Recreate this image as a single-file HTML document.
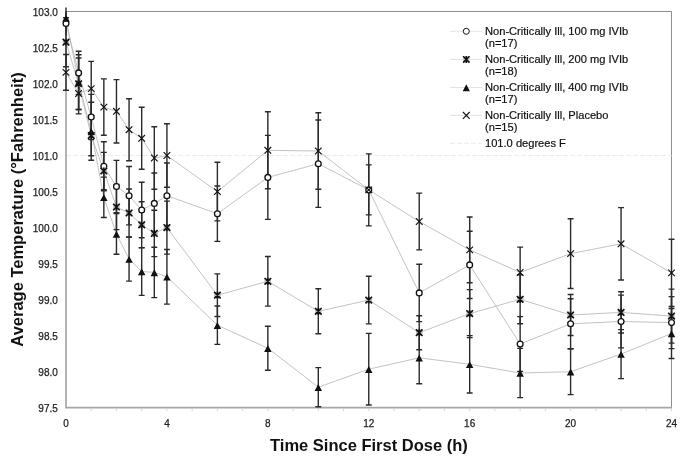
<!DOCTYPE html>
<html><head><meta charset="utf-8"><title>Average Temperature vs Time Since First Dose</title><style>
html,body{margin:0;padding:0;background:#fff;}
body{width:685px;height:460px;overflow:hidden;}
svg{display:block;}
.mc circle{fill:#fff;stroke:#111;stroke-width:1.3;}
.mx{fill:none;stroke:#111;stroke-width:1.2;}
.ma{fill:none;stroke:#111;stroke-width:1.6;}
.mt{fill:#111;stroke:none;}
</style></head><body>
<svg width="685" height="460" viewBox="0 0 685 460">
<path d="M66 11.5H671.5V407" fill="none" stroke="#8e8e8e" stroke-width="1"/>
<path d="M66 155.57H671.5" stroke="#ebebeb" stroke-width="1" stroke-dasharray="5 2"/>
<path d="M66 11V407.7H672" fill="none" stroke="#a6a6a6" stroke-width="1.7"/>
<path d="M91.23 408.5V411M116.46 408.5V411M141.69 408.5V411M166.92 408.5V411M192.15 408.5V411M217.38 408.5V411M242.61 408.5V411M267.84 408.5V411M293.07 408.5V411M318.3 408.5V411M343.53 408.5V411M368.76 408.5V411M393.99 408.5V411M419.22 408.5V411M444.45 408.5V411M469.68 408.5V411M494.91 408.5V411M520.14 408.5V411M545.37 408.5V411M570.6 408.5V411M595.83 408.5V411M621.06 408.5V411M646.29 408.5V411M671.52 408.5V411" stroke="#d4d4d4" stroke-width="1"/>
<g font-family="Liberation Sans, Arial, sans-serif" font-size="10" fill="#222" stroke="#222" stroke-width="0.25" text-anchor="end"><text x="57.8" y="411.7">97.5</text><text x="57.8" y="375.68">98.0</text><text x="57.8" y="339.66">98.5</text><text x="57.8" y="303.65">99.0</text><text x="57.8" y="267.63">99.5</text><text x="57.8" y="231.61">100.0</text><text x="57.8" y="195.59">100.5</text><text x="57.8" y="159.57">101.0</text><text x="57.8" y="123.55">101.5</text><text x="57.8" y="87.54">102.0</text><text x="57.8" y="51.52">102.5</text><text x="57.8" y="15.5">103.0</text></g>
<g font-family="Liberation Sans, Arial, sans-serif" font-size="10" fill="#222" stroke="#222" stroke-width="0.25" text-anchor="middle"><text x="66" y="426.6">0</text><text x="166.92" y="426.6">4</text><text x="267.84" y="426.6">8</text><text x="368.76" y="426.6">12</text><text x="469.68" y="426.6">16</text><text x="570.6" y="426.6">20</text><text x="671.52" y="426.6">24</text></g>
<text x="368.9" y="450.6" font-family="Liberation Sans, Arial, sans-serif" font-weight="bold" font-size="16.5" fill="#111" text-anchor="middle">Time Since First Dose (h)</text>
<text transform="translate(22.5 209.5) rotate(-90)" font-family="Liberation Sans, Arial, sans-serif" font-weight="bold" font-size="16.5" fill="#111" text-anchor="middle">Average Temperature (°Fahrenheit)</text>
<g fill="none" stroke="#b4b4b4" stroke-width="0.8">
<polyline points="66,23.5 78.61,72.9 91.23,117 103.84,166.2 116.46,186.5 129.07,195.7 141.69,210 154.31,203.4 166.92,195.7 217.38,213.7 267.84,177.4 318.3,163.7 368.76,189.9 419.22,292.9 469.68,264.9 520.14,344 570.6,323.8 621.06,321.5 671.52,322.6"/>
<polyline points="66,42.2 78.61,83.75 91.23,135.6 103.84,171 116.46,207 129.07,213 141.69,224.8 154.31,233.4 166.92,227.6 217.38,295.2 267.84,281.3 318.3,311.3 368.76,300.1 419.22,332.7 469.68,313.6 520.14,299.3 570.6,315 621.06,312.4 671.52,316.1"/>
<polyline points="66,18 78.61,82.1 91.23,131.2 103.84,197.3 116.46,233.9 129.07,259.1 141.69,271.5 154.31,272.4 166.92,276.8 217.38,325.2 267.84,348.2 318.3,387.2 368.76,369.2 419.22,357.8 469.68,364.3 520.14,373 570.6,371.7 621.06,354.1 671.52,333.5"/>
<polyline points="66,72.4 78.61,93.5 91.23,88.6 103.84,107.1 116.46,111.3 129.07,129.7 141.69,138.3 154.31,158 166.92,155.5 217.38,191.6 267.84,150.3 318.3,151 368.76,189.9 419.22,221.5 469.68,249.9 520.14,272.5 570.6,253.6 621.06,243.8 671.52,272.9"/>
</g>
<g fill="none" stroke="#2a2a2a" stroke-width="1.4">
<path d="M66 54.5V90.3M63.05 54.5h5.9M63.05 90.3h5.9M78.61 73.1V113.9M75.66 73.1h5.9M75.66 113.9h5.9M91.23 61.4V115.8M88.28 61.4h5.9M88.28 115.8h5.9M103.84 78.9V135.3M100.89 78.9h5.9M100.89 135.3h5.9M116.46 79.6V143M113.51 79.6h5.9M113.51 143h5.9M129.07 98.7V160.7M126.12 98.7h5.9M126.12 160.7h5.9M141.69 107.3V169.3M138.74 107.3h5.9M138.74 169.3h5.9M154.31 126.7V189.3M151.36 126.7h5.9M151.36 189.3h5.9M166.92 123.7V187.3M163.97 123.7h5.9M163.97 187.3h5.9M217.38 162.3V220.9M214.43 162.3h5.9M214.43 220.9h5.9M267.84 111.8V188.8M264.89 111.8h5.9M264.89 188.8h5.9M318.3 112.8V189.2M315.35 112.8h5.9M315.35 189.2h5.9M368.76 153.9V225.9M365.81 153.9h5.9M365.81 225.9h5.9M419.22 193.1V249.9M416.27 193.1h5.9M416.27 249.9h5.9M469.68 217V282.8M466.73 217h5.9M466.73 282.8h5.9M520.14 247.1V297.9M517.19 247.1h5.9M517.19 297.9h5.9M570.6 218.7V288.5M567.65 218.7h5.9M567.65 288.5h5.9M621.06 207.6V280M618.11 207.6h5.9M618.11 280h5.9M671.52 239.3V306.5M668.57 239.3h5.9M668.57 306.5h5.9"/>
<path d="M66 17.7V66.7M63.05 17.7h5.9M63.05 66.7h5.9M78.61 58V109.5M75.66 58h5.9M75.66 109.5h5.9M91.23 115.5V155.7M88.28 115.5h5.9M88.28 155.7h5.9M103.84 152.4V189.6M100.89 152.4h5.9M100.89 189.6h5.9M116.46 184.4V229.6M113.51 184.4h5.9M113.51 229.6h5.9M129.07 189V237M126.12 189h5.9M126.12 237h5.9M141.69 201.7V247.9M138.74 201.7h5.9M138.74 247.9h5.9M154.31 210.2V256.6M151.36 210.2h5.9M151.36 256.6h5.9M166.92 201.1V254.1M163.97 201.1h5.9M163.97 254.1h5.9M217.38 273.9V316.5M214.43 273.9h5.9M214.43 316.5h5.9M267.84 256.5V306.1M264.89 256.5h5.9M264.89 306.1h5.9M318.3 288.8V333.8M315.35 288.8h5.9M315.35 333.8h5.9M368.76 276.3V323.9M365.81 276.3h5.9M365.81 323.9h5.9M419.22 315.7V349.7M416.27 315.7h5.9M416.27 349.7h5.9M469.68 289.6V337.6M466.73 289.6h5.9M466.73 337.6h5.9M520.14 274.8V323.8M517.19 274.8h5.9M517.19 323.8h5.9M570.6 294.5V335.5M567.65 294.5h5.9M567.65 335.5h5.9M621.06 291.8V333M618.11 291.8h5.9M618.11 333h5.9M671.52 289.1V343.1M668.57 289.1h5.9M668.57 343.1h5.9"/>
<path d="M66 11.5V35.5M78.61 51.3V94.5M75.66 51.3h5.9M75.66 94.5h5.9M91.23 94.4V139.6M88.28 94.4h5.9M88.28 139.6h5.9M103.84 141.7V190.7M100.89 141.7h5.9M100.89 190.7h5.9M116.46 160.4V212.6M113.51 160.4h5.9M113.51 212.6h5.9M129.07 166.5V224.9M126.12 166.5h5.9M126.12 224.9h5.9M141.69 182.2V237.8M138.74 182.2h5.9M138.74 237.8h5.9M154.31 173V233.8M151.36 173h5.9M151.36 233.8h5.9M166.92 163V228.4M163.97 163h5.9M163.97 228.4h5.9M217.38 186V241.4M214.43 186h5.9M214.43 241.4h5.9M267.84 135.4V219.4M264.89 135.4h5.9M264.89 219.4h5.9M318.3 120V207.4M315.35 120h5.9M315.35 207.4h5.9M368.76 164.9V214.9M365.81 164.9h5.9M365.81 214.9h5.9M419.22 264.2V321.6M416.27 264.2h5.9M416.27 321.6h5.9M469.68 231.3V298.5M466.73 231.3h5.9M466.73 298.5h5.9M520.14 316.6V371.4M517.19 316.6h5.9M517.19 371.4h5.9M570.6 298.8V348.8M567.65 298.8h5.9M567.65 348.8h5.9M621.06 295.1V347.9M618.11 295.1h5.9M618.11 347.9h5.9M671.52 296.6V348.6M668.57 296.6h5.9M668.57 348.6h5.9"/>
<path d="M66 7.5V28.5M78.61 54.7V109.5M75.66 54.7h5.9M75.66 109.5h5.9M91.23 102.2V160.2M88.28 102.2h5.9M88.28 160.2h5.9M103.84 177.1V217.5M100.89 177.1h5.9M100.89 217.5h5.9M116.46 213.5V254.3M113.51 213.5h5.9M113.51 254.3h5.9M129.07 237.1V281.1M126.12 237.1h5.9M126.12 281.1h5.9M141.69 247.6V295.4M138.74 247.6h5.9M138.74 295.4h5.9M154.31 247.2V297.6M151.36 247.2h5.9M151.36 297.6h5.9M166.92 249.5V304.1M163.97 249.5h5.9M163.97 304.1h5.9M217.38 306V344.4M214.43 306h5.9M214.43 344.4h5.9M267.84 326.2V370.2M264.89 326.2h5.9M264.89 370.2h5.9M318.3 367.6V406.8M315.35 367.6h5.9M315.35 406.8h5.9M368.76 333.4V405M365.81 333.4h5.9M365.81 405h5.9M419.22 331.8V383.8M416.27 331.8h5.9M416.27 383.8h5.9M469.68 335.6V393M466.73 335.6h5.9M466.73 393h5.9M520.14 348.4V397.6M517.19 348.4h5.9M517.19 397.6h5.9M570.6 348.8V394.6M567.65 348.8h5.9M567.65 394.6h5.9M621.06 329.6V378.6M618.11 329.6h5.9M618.11 378.6h5.9M671.52 308.5V358.5M668.57 308.5h5.9M668.57 358.5h5.9"/>
</g>
<g stroke="#111">
<g class="mc"><circle cx="66" cy="23.5" r="2.9"/><circle cx="78.61" cy="72.9" r="2.9"/><circle cx="91.23" cy="117" r="2.9"/><circle cx="103.84" cy="166.2" r="2.9"/><circle cx="116.46" cy="186.5" r="2.9"/><circle cx="129.07" cy="195.7" r="2.9"/><circle cx="141.69" cy="210" r="2.9"/><circle cx="154.31" cy="203.4" r="2.9"/><circle cx="166.92" cy="195.7" r="2.9"/><circle cx="217.38" cy="213.7" r="2.9"/><circle cx="267.84" cy="177.4" r="2.9"/><circle cx="318.3" cy="163.7" r="2.9"/><circle cx="368.76" cy="189.9" r="2.9"/><circle cx="419.22" cy="292.9" r="2.9"/><circle cx="469.68" cy="264.9" r="2.9"/><circle cx="520.14" cy="344" r="2.9"/><circle cx="570.6" cy="323.8" r="2.9"/><circle cx="621.06" cy="321.5" r="2.9"/><circle cx="671.52" cy="322.6" r="2.9"/></g>
<path fill="#bdbdbd" stroke="none" d="M62.8 39h6.4v6.4h-6.4ZM75.41 80.55h6.4v6.4h-6.4ZM88.03 132.4h6.4v6.4h-6.4ZM100.64 167.8h6.4v6.4h-6.4ZM113.26 203.8h6.4v6.4h-6.4ZM125.87 209.8h6.4v6.4h-6.4ZM138.49 221.6h6.4v6.4h-6.4ZM151.11 230.2h6.4v6.4h-6.4ZM163.72 224.4h6.4v6.4h-6.4ZM214.18 292h6.4v6.4h-6.4ZM264.64 278.1h6.4v6.4h-6.4ZM315.1 308.1h6.4v6.4h-6.4ZM365.56 296.9h6.4v6.4h-6.4ZM416.02 329.5h6.4v6.4h-6.4ZM466.48 310.4h6.4v6.4h-6.4ZM516.94 296.1h6.4v6.4h-6.4ZM567.4 311.8h6.4v6.4h-6.4ZM617.86 309.2h6.4v6.4h-6.4ZM668.32 312.9h6.4v6.4h-6.4Z"/><path class="ma" d="M62.7 38.9l6.6 6.6M62.7 45.5l6.6 -6.6M66 38.6v7.2M75.31 80.45l6.6 6.6M75.31 87.05l6.6 -6.6M78.61 80.15v7.2M87.93 132.3l6.6 6.6M87.93 138.9l6.6 -6.6M91.23 132v7.2M100.55 167.7l6.6 6.6M100.55 174.3l6.6 -6.6M103.84 167.4v7.2M113.16 203.7l6.6 6.6M113.16 210.3l6.6 -6.6M116.46 203.4v7.2M125.77 209.7l6.6 6.6M125.77 216.3l6.6 -6.6M129.07 209.4v7.2M138.39 221.5l6.6 6.6M138.39 228.1l6.6 -6.6M141.69 221.2v7.2M151 230.1l6.6 6.6M151 236.7l6.6 -6.6M154.31 229.8v7.2M163.62 224.3l6.6 6.6M163.62 230.9l6.6 -6.6M166.92 224v7.2M214.08 291.9l6.6 6.6M214.08 298.5l6.6 -6.6M217.38 291.6v7.2M264.54 278l6.6 6.6M264.54 284.6l6.6 -6.6M267.84 277.7v7.2M315 308l6.6 6.6M315 314.6l6.6 -6.6M318.3 307.7v7.2M365.46 296.8l6.6 6.6M365.46 303.4l6.6 -6.6M368.76 296.5v7.2M415.92 329.4l6.6 6.6M415.92 336l6.6 -6.6M419.22 329.1v7.2M466.38 310.3l6.6 6.6M466.38 316.9l6.6 -6.6M469.68 310v7.2M516.84 296l6.6 6.6M516.84 302.6l6.6 -6.6M520.14 295.7v7.2M567.3 311.7l6.6 6.6M567.3 318.3l6.6 -6.6M570.6 311.4v7.2M617.76 309.1l6.6 6.6M617.76 315.7l6.6 -6.6M621.06 308.8v7.2M668.22 312.8l6.6 6.6M668.22 319.4l6.6 -6.6M671.52 312.5v7.2"/>
<path class="mt" d="M66 14.85L69.75 21.75L62.25 21.75ZM78.61 78.95L82.36 85.85L74.86 85.85ZM91.23 128.05L94.98 134.95L87.48 134.95ZM103.84 194.15L107.59 201.05L100.09 201.05ZM116.46 230.75L120.21 237.65L112.71 237.65ZM129.07 255.95L132.82 262.85L125.32 262.85ZM141.69 268.35L145.44 275.25L137.94 275.25ZM154.31 269.25L158.06 276.15L150.56 276.15ZM166.92 273.65L170.67 280.55L163.17 280.55ZM217.38 322.05L221.13 328.95L213.63 328.95ZM267.84 345.05L271.59 351.95L264.09 351.95ZM318.3 384.05L322.05 390.95L314.55 390.95ZM368.76 366.05L372.51 372.95L365.01 372.95ZM419.22 354.65L422.97 361.55L415.47 361.55ZM469.68 361.15L473.43 368.05L465.93 368.05ZM520.14 369.85L523.89 376.75L516.39 376.75ZM570.6 368.55L574.35 375.45L566.85 375.45ZM621.06 350.95L624.81 357.85L617.31 357.85ZM671.52 330.35L675.27 337.25L667.77 337.25Z"/>
<path class="mx" d="M62.7 69.1l6.6 6.6M62.7 75.7l6.6 -6.6M75.31 90.2l6.6 6.6M75.31 96.8l6.6 -6.6M87.93 85.3l6.6 6.6M87.93 91.9l6.6 -6.6M100.55 103.8l6.6 6.6M100.55 110.4l6.6 -6.6M113.16 108l6.6 6.6M113.16 114.6l6.6 -6.6M125.77 126.4l6.6 6.6M125.77 133l6.6 -6.6M138.39 135l6.6 6.6M138.39 141.6l6.6 -6.6M151 154.7l6.6 6.6M151 161.3l6.6 -6.6M163.62 152.2l6.6 6.6M163.62 158.8l6.6 -6.6M214.08 188.3l6.6 6.6M214.08 194.9l6.6 -6.6M264.54 147l6.6 6.6M264.54 153.6l6.6 -6.6M315 147.7l6.6 6.6M315 154.3l6.6 -6.6M365.46 186.6l6.6 6.6M365.46 193.2l6.6 -6.6M415.92 218.2l6.6 6.6M415.92 224.8l6.6 -6.6M466.38 246.6l6.6 6.6M466.38 253.2l6.6 -6.6M516.84 269.2l6.6 6.6M516.84 275.8l6.6 -6.6M567.3 250.3l6.6 6.6M567.3 256.9l6.6 -6.6M617.76 240.5l6.6 6.6M617.76 247.1l6.6 -6.6M668.22 269.6l6.6 6.6M668.22 276.2l6.6 -6.6"/>
</g>
<rect x="446" y="17" width="220" height="136" fill="#fff"/>
<path d="M450 31.3H482" stroke="#dcdcdc" stroke-width="0.8"/>
<path d="M450 59.4H482" stroke="#dcdcdc" stroke-width="0.8"/>
<path d="M450 87.5H482" stroke="#dcdcdc" stroke-width="0.8"/>
<path d="M450 115.4H482" stroke="#dcdcdc" stroke-width="0.8"/>
<path d="M450 143.3H482" stroke="#ebebeb" stroke-width="1" stroke-dasharray="5 2"/>
<circle cx="466.3" cy="31.3" r="3.0" fill="#fff" stroke="#111" stroke-width="1.0"/>
<path d="M463.1 56.2h6.4v6.4h-6.4Z" fill="#c4c4c4"/>
<path d="M463.1 56.2l6.4 6.4M463.1 62.6l6.4 -6.4M466.3 55.9v7" stroke="#111" stroke-width="1.5" fill="none"/>
<path d="M466.3 84.35L469.9 91.25L462.7 91.25Z" fill="#111"/>
<path d="M462.9 112l6.8 6.8M462.9 118.8l6.8 -6.8" stroke="#111" stroke-width="1.1" fill="none"/>
<g font-family="Liberation Sans, Arial, sans-serif" font-size="11.12" fill="#111" stroke="#111" stroke-width="0.2"><text x="485.0" y="34.8">Non-Critically Ill, 100 mg IVIb</text><text x="485.0" y="47.2">(n=17)</text><text x="485.0" y="62.9">Non-Critically Ill, 200 mg IVIb</text><text x="485.0" y="75.3">(n=18)</text><text x="485.0" y="91">Non-Critically Ill, 400 mg IVIb</text><text x="485.0" y="103.4">(n=17)</text><text x="485.0" y="118.9">Non-Critically Ill, Placebo</text><text x="485.0" y="131.3">(n=15)</text><text x="485.0" y="146.8">101.0 degrees F</text></g>
</svg>
</body></html>
